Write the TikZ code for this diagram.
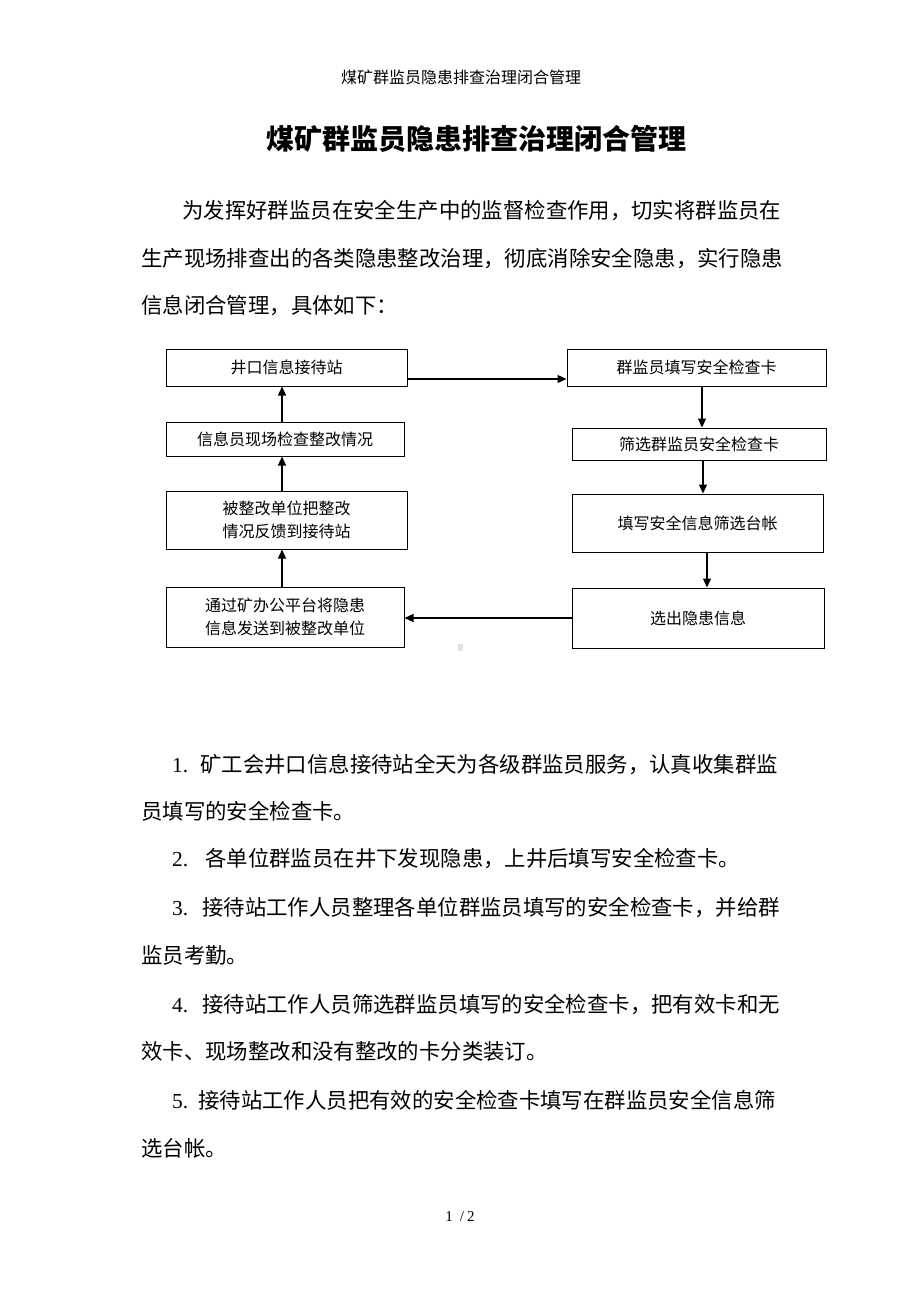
\documentclass[tikz,border=0pt]{standalone}
\usepackage{fontspec}
\setmainfont{Liberation Serif}
\newfontfamily\cjk{Noto Sans CJK SC}
\usetikzlibrary{arrows.meta}
\begin{document}
\begin{tikzpicture}[x=1pt,y=-1pt,
  box/.style={draw, line width=1pt, inner sep=0pt, font=\cjk\fontsize{16pt}{23pt}\selectfont, align=center},
  arr/.style={line width=1.3pt, -{Triangle[length=9pt,width=8pt]}},
  body/.style={anchor=base west, inner sep=0pt, font=\cjk\fontsize{21.4pt}{21.4pt}\selectfont},
  num/.style={font=\rmfamily}]
\useasboundingbox[fill=white] (0,0) rectangle (920,1302);

% header and title
\node[anchor=base, inner sep=0pt, font=\cjk\fontsize{16pt}{16pt}\selectfont] (hdr) at (461,83) {煤矿群监员隐患排查治理闭合管理};
\node[anchor=base, inner sep=0pt, font=\cjk\bfseries\fontsize{28pt}{28pt}\selectfont] (title) at (476,149) {煤矿群监员隐患排查治理闭合管理};

% intro paragraph
\node[body] (p1) at (182,218) {为发挥好群监员在安全生产中的监督检查作用，切实将群监员在};
\node[body] (p2) at (141,266) {生产现场排查出的各类隐患整改治理，彻底消除安全隐患，实行隐患};
\node[body] (p3) at (141,313) {信息闭合管理，具体如下：};

% flowchart boxes
\node[box, minimum width=241pt, minimum height=37pt] (b1) at (286.5,367.5) {井口信息接待站};
\node[box, minimum width=238pt, minimum height=34pt] (b2) at (285,439) {信息员现场检查整改情况};
\node[box, minimum width=241pt, minimum height=58pt] (b3) at (286.5,520) {被整改单位把整改\\情况反馈到接待站};
\node[box, minimum width=238pt, minimum height=60pt] (b4) at (285,617) {通过矿办公平台将隐患\\信息发送到被整改单位};
\node[box, minimum width=259pt, minimum height=37pt] (b5) at (696.5,367.5) {群监员填写安全检查卡};
\node[box, minimum width=254pt, minimum height=32pt] (b6) at (699,444) {筛选群监员安全检查卡};
\node[box, minimum width=251pt, minimum height=58pt] (b7) at (697.5,523) {填写安全信息筛选台帐};
\node[box, minimum width=252pt, minimum height=60pt] (b8) at (698,618) {选出隐患信息};

% connector helper coordinates
\coordinate (h15) at (0,379);
\coordinate (v56) at (702,0);
\coordinate (v67) at (703,0);
\coordinate (v78) at (707,0);
\coordinate (vl) at (282,0);

\draw[arr] (b1.east |- h15) -- (b5.west |- h15);
\draw[arr] (v56 |- b5.south) -- (v56 |- b6.north);
\draw[arr] (v67 |- b6.south) -- (v67 |- b7.north);
\draw[arr] (v78 |- b7.south) -- (v78 |- b8.north);
\draw[arr] (b8.west) -- (b4.east |- b8.west);
\draw[arr] (vl |- b4.north) -- (vl |- b3.south);
\draw[arr] (vl |- b3.north) -- (vl |- b2.south);
\draw[arr] (vl |- b2.north) -- (vl |- b1.south);

% small grey mark
\fill[black!12] (458,644) rectangle (463,651);

% numbered items
\node[body] (n1) at (172,772) {\makebox[28pt][l]{\rmfamily 1.}矿工会井口信息接待站全天为各级群监员服务，认真收集群监};
\node[body] (n1b) at (141,819) {员填写的安全检查卡。};
\node[body] (n2) at (172,866) {\makebox[33pt][l]{\rmfamily 2.}各单位群监员在井下发现隐患，上井后填写安全检查卡。};
\node[body] (n3) at (172,915) {\makebox[30pt][l]{\rmfamily 3.}接待站工作人员整理各单位群监员填写的安全检查卡，并给群};
\node[body] (n3b) at (141,963) {监员考勤。};
\node[body] (n4) at (172,1012) {\makebox[30pt][l]{\rmfamily 4.}接待站工作人员筛选群监员填写的安全检查卡，把有效卡和无};
\node[body] (n4b) at (141,1059) {效卡、现场整改和没有整改的卡分类装订。};
\node[body] (n5) at (172,1108) {\makebox[26pt][l]{\rmfamily 5.}接待站工作人员把有效的安全检查卡填写在群监员安全信息筛};
\node[body] (n5b) at (141,1156) {选台帐。};

% footer
\node[anchor=base, inner sep=0pt, font=\rmfamily\fontsize{15pt}{15pt}\selectfont] (ftr) at (460,1221) {1\hspace{7pt}/\hspace{3pt}2};
\end{tikzpicture}
\end{document}
